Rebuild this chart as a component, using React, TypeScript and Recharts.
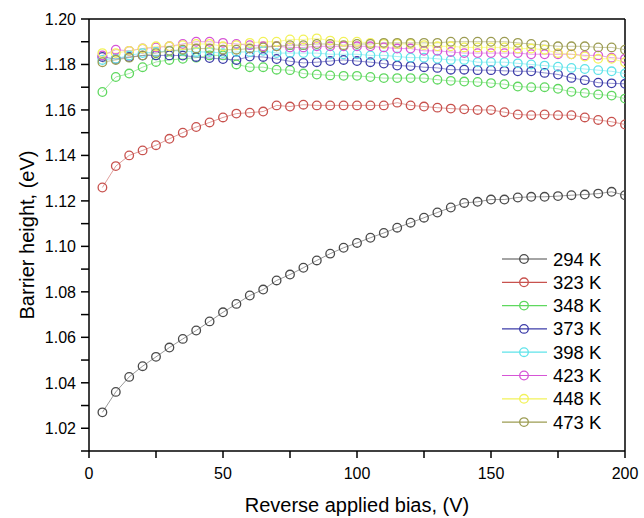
import React from 'react';
import { LineChart, Line, XAxis, YAxis, ReferenceLine } from 'recharts';

const bias = [5, 10, 15, 20, 25, 30, 35, 40, 45, 50, 55, 60, 65, 70, 75, 80, 85, 90, 95, 100,
  105, 110, 115, 120, 125, 130, 135, 140, 145, 150, 155, 160, 165, 170, 175, 180, 185, 190, 195, 200];

const k294 = [1.027, 1.036, 1.0426, 1.0473, 1.0514, 1.0555, 1.0593, 1.063, 1.067, 1.071, 1.0747, 1.0784, 1.081, 1.085, 1.0876, 1.0906, 1.0938, 1.0968, 1.0994, 1.1015,
  1.1038, 1.1059, 1.1082, 1.1104, 1.1126, 1.1149, 1.1171, 1.1191, 1.1196, 1.1206, 1.1206, 1.1215, 1.1218, 1.1218, 1.1221, 1.1225, 1.1228, 1.1232, 1.124, 1.1225];
const k323 = [1.1259, 1.1353, 1.14, 1.1422, 1.1445, 1.1473, 1.15, 1.1525, 1.1545, 1.1567, 1.1584, 1.1588, 1.1593, 1.162, 1.1615, 1.1623, 1.162, 1.162, 1.162, 1.162,
  1.162, 1.162, 1.1632, 1.162, 1.1615, 1.161, 1.1606, 1.1603, 1.16, 1.16, 1.159, 1.158, 1.1577, 1.158, 1.1577, 1.1577, 1.1567, 1.1556, 1.1548, 1.1536];
const k348 = [1.1679, 1.1745, 1.176, 1.1788, 1.1811, 1.182, 1.1825, 1.183, 1.184, 1.184, 1.18, 1.1788, 1.1788, 1.1777, 1.1775, 1.176, 1.1756, 1.1752, 1.175, 1.175,
  1.1745, 1.174, 1.174, 1.174, 1.174, 1.1733, 1.1728, 1.1725, 1.1723, 1.1718, 1.1713, 1.1703, 1.17, 1.17, 1.1693, 1.168, 1.1675, 1.1668, 1.1663, 1.165];
const k373 = [1.1833, 1.1824, 1.1833, 1.1839, 1.184, 1.184, 1.1839, 1.1833, 1.1828, 1.1824, 1.182, 1.1835, 1.1833, 1.1824, 1.1814, 1.1807, 1.181, 1.1815, 1.182, 1.1815,
  1.181, 1.1804, 1.1795, 1.1793, 1.1788, 1.1785, 1.1777, 1.1777, 1.1775, 1.1775, 1.1772, 1.177, 1.177, 1.1763, 1.1756, 1.1741, 1.1731, 1.172, 1.1717, 1.1715];
const k398 = [1.182, 1.1825, 1.184, 1.185, 1.1855, 1.186, 1.186, 1.1855, 1.1855, 1.185, 1.1855, 1.1855, 1.186, 1.185, 1.185, 1.185, 1.185, 1.1845, 1.1845, 1.1845,
  1.184, 1.184, 1.1835, 1.183, 1.183, 1.1825, 1.182, 1.182, 1.181, 1.181, 1.181, 1.1805, 1.18, 1.1795, 1.179, 1.1785, 1.178, 1.1775, 1.177, 1.176];
const k423 = [1.184, 1.1865, 1.186, 1.187, 1.1875, 1.188, 1.189, 1.19, 1.19, 1.1895, 1.189, 1.1885, 1.188, 1.188, 1.1875, 1.1875, 1.188, 1.188, 1.188, 1.188,
  1.188, 1.1875, 1.187, 1.187, 1.186, 1.186, 1.1855, 1.185, 1.185, 1.185, 1.185, 1.185, 1.1845, 1.1845, 1.1845, 1.1845, 1.184, 1.184, 1.183, 1.1825];
const k448 = [1.185, 1.185, 1.186, 1.187, 1.188, 1.188, 1.1885, 1.189, 1.189, 1.188, 1.1885, 1.1895, 1.19, 1.19, 1.191, 1.191, 1.1915, 1.1905, 1.19, 1.19,
  1.1895, 1.189, 1.189, 1.189, 1.1885, 1.188, 1.188, 1.1875, 1.1875, 1.1875, 1.1875, 1.187, 1.187, 1.1865, 1.185, 1.1845, 1.1835, 1.1825, 1.1825, 1.181];
const k473 = [1.181, 1.182, 1.183, 1.184, 1.185, 1.186, 1.1865, 1.187, 1.187, 1.1865, 1.1865, 1.187, 1.1875, 1.188, 1.1885, 1.1885, 1.189, 1.189, 1.1885, 1.189,
  1.189, 1.1895, 1.1895, 1.1895, 1.1895, 1.1895, 1.19, 1.19, 1.19, 1.19, 1.19, 1.1895, 1.189, 1.1885, 1.188, 1.188, 1.188, 1.1875, 1.1875, 1.1865];

const seriesNames = ['294 K', '323 K', '348 K', '373 K', '398 K', '423 K', '448 K', '473 K'];
const seriesValues = [k294, k323, k348, k373, k398, k423, k448, k473];
const seriesColors = ['#4a4a4a', '#c8524e', '#5fd85f', '#3c3ca8', '#5fe3ea', '#d655d6', '#f2f25a', '#9c9c52'];

const xTicks = [0, 25, 50, 75, 100, 125, 150, 175, 200];
const xLabelled = [0, 50, 100, 150, 200];
const yTicks = [1.01, 1.02, 1.03, 1.04, 1.05, 1.06, 1.07, 1.08, 1.09, 1.1, 1.11, 1.12, 1.13, 1.14, 1.15, 1.16, 1.17, 1.18, 1.19, 1.2];
const yLabelled = ['1.02', '1.04', '1.06', '1.08', '1.10', '1.12', '1.14', '1.16', '1.18', '1.20'];

const data = bias.map((b, i) => {
  const row: Record<string, number> = { bias: b };
  seriesNames.forEach((n, j) => { row[n] = seriesValues[j][i]; });
  return row;
});

const FONT = '"Liberation Sans", Arial, sans-serif';

const XTick = (props: any) => {
  const { x, y, payload } = props;
  const labelled = xLabelled.includes(payload.value);
  return (
    <g>
      <line x1={x} y1={y} x2={x} y2={y + 7} stroke="#000" strokeWidth={1.5} />
      {labelled && (
        <text x={x} y={y + 28} textAnchor="middle" fontSize={16} fontFamily={FONT} fill="#000">
          {payload.value}
        </text>
      )}
    </g>
  );
};

const YTick = (props: any) => {
  const { x, y, payload } = props;
  const label = payload.value.toFixed(2);
  const labelled = yLabelled.includes(label);
  return (
    <g>
      <line x1={x} y1={y} x2={x - 8} y2={y} stroke="#000" strokeWidth={1.5} />
      {labelled && (
        <text x={x - 13} y={y + 6} textAnchor="end" fontSize={16} fontFamily={FONT} fill="#000">
          {label}
        </text>
      )}
    </g>
  );
};

const LegendBox = () => (
  <svg width={130} height={190} style={{ position: 'absolute', left: 500, top: 249 }}>
    {seriesNames.map((n, i) => {
      const cy = 10 + i * 23.3;
      return (
        <g key={n}>
          <line x1={2} y1={cy} x2={47} y2={cy} stroke={seriesColors[i]} strokeWidth={1.2} />
          <circle cx={24} cy={cy} r={4.3} fill="none" stroke={seriesColors[i]} strokeWidth={1.3} />
          <text x={53} y={cy + 6.5} fontSize={18.5} fontFamily={FONT} fill="#000">{n}</text>
        </g>
      );
    })}
  </svg>
);

export default function App() {
  return (
    <div style={{ position: 'absolute', left: 0, top: 0, width: 644, height: 518, background: '#fff' }}>
      <LineChart width={644} height={518} data={data} margin={{ top: 19, right: 19, left: 0, bottom: 0 }}>
        <XAxis
          dataKey="bias"
          type="number"
          domain={[0, 200]}
          ticks={xTicks}
          interval={0}
          tickSize={0}
          tickMargin={0}
          tickLine={false}
          tick={<XTick />}
          height={67}
          axisLine={{ stroke: '#000', strokeWidth: 1.5 }}
          allowDataOverflow
          label={{ value: 'Reverse applied bias, (V)', position: 'insideBottom', offset: 6, fontSize: 20, fontFamily: FONT, fill: '#000' }}
        />
        <YAxis
          type="number"
          domain={[1.01, 1.2]}
          ticks={yTicks}
          interval={0}
          tickSize={0}
          tickMargin={0}
          tickLine={false}
          tick={<YTick />}
          width={89}
          axisLine={{ stroke: '#000', strokeWidth: 1.5 }}
          allowDataOverflow
          label={{ value: 'Barrier height, (eV)', angle: -90, position: 'insideLeft', offset: 27, fontSize: 20, fontFamily: FONT, fill: '#000', style: { textAnchor: 'middle' } }}
        />
        <ReferenceLine y={1.2} stroke="#000" strokeWidth={1.5} ifOverflow="visible" />
        <ReferenceLine x={200} stroke="#000" strokeWidth={1.5} ifOverflow="visible" />
        {seriesNames.map((n, i) => (
          <Line
            key={n}
            dataKey={n}
            stroke={seriesColors[i]}
            strokeWidth={0.7}
            strokeOpacity={0.8}
            isAnimationActive={false}
            dot={{ r: 4.3, fill: 'none', stroke: seriesColors[i], strokeWidth: 1.3, strokeOpacity: 1 }}
            activeDot={false}
          />
        ))}
      </LineChart>
      <LegendBox />
    </div>
  );
}
